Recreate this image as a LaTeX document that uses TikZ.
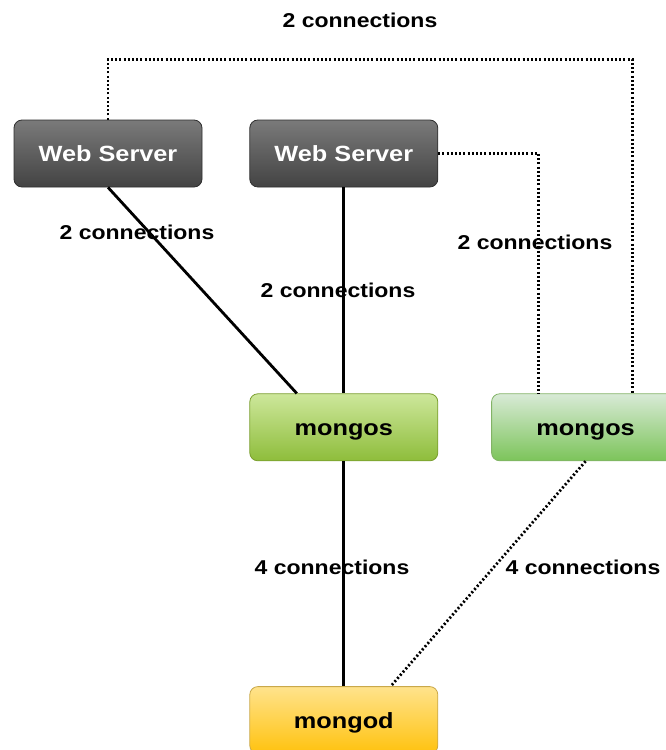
\documentclass[tikz,border=0pt]{standalone}
\usepackage{fontspec}
\setmainfont[FakeStretch=1.15]{Liberation Sans}
\usetikzlibrary{positioning}
\definecolor{wstop}{HTML}{7A7A7A}
\definecolor{wsbot}{HTML}{434343}
\definecolor{wsline}{HTML}{2E2E2E}
\definecolor{gatop}{HTML}{CDE79B}
\definecolor{gabot}{HTML}{8EBD3B}
\definecolor{galine}{HTML}{7A9E2E}
\definecolor{gbtop}{HTML}{D8EAD6}
\definecolor{gbbot}{HTML}{7CC45A}
\definecolor{gbline}{HTML}{82B366}
\definecolor{ytop}{HTML}{FFE38C}
\definecolor{ybot}{HTML}{FFC20E}
\definecolor{yline}{HTML}{C9A84A}

\begin{document}
\begin{tikzpicture}[x=1pt,y=-1pt,font=\bfseries\fontsize{20}{24}\selectfont,
    box/.style={rounded corners=8pt,minimum width=188pt,minimum height=67pt,inner sep=0pt,
      line width=0.8pt,text height=16pt,text depth=0pt,font=\bfseries\fontsize{22}{26}\selectfont},
    web/.style={box,draw=wsline,top color=wstop,bottom color=wsbot,text=white},
    routerA/.style={box,draw=galine,top color=gatop,bottom color=gabot},
    routerB/.style={box,draw=gbline,top color=gbtop,bottom color=gbbot},
    shard/.style={box,draw=yline,top color=ytop,bottom color=ybot},
    link/.style={line width=2.8pt},
    dots/.style={line width=2.8pt,dash pattern=on 2pt off 2.2pt}]
      \useasboundingbox (0,0) rectangle (665,750);
      \node[web] (W1) at (108,153.5) {Web Server};
      \node[web] (W2) [right=47pt of W1] {Web Server};
      \node[routerA] (M1) [below=206pt of W2] {mongos};
      \node[routerB] (M2) [right=53pt of M1] {mongos};
      \node[shard] (D) [below=225pt of M1] {mongod};
      \path (W1.south) edge[link] ([xshift=-47pt]M1.north)
      (W2.south) edge[link] (M1.north)
      (M1.south) edge[link] (D.north)
      (M2.south) edge[dots] ([xshift=47pt]D.north);
      \draw[dots] (W2.east) -| ([xshift=-47pt]M2.north);
      \draw[dots] (W1.north) -- ++(0,-60) -| ([xshift=47pt]M2.north);
      \node (L1) at (360,20) {2 connections};
      \node (L2) at (137,232) {2 connections};
      \node (L3) at (338,290) {2 connections};
      \node (L4) at (535,242) {2 connections};
      \node (L5) at (332,567) {4 connections};
      \node (L6) at (583,567) {4 connections};
\end{tikzpicture}
\end{document}
